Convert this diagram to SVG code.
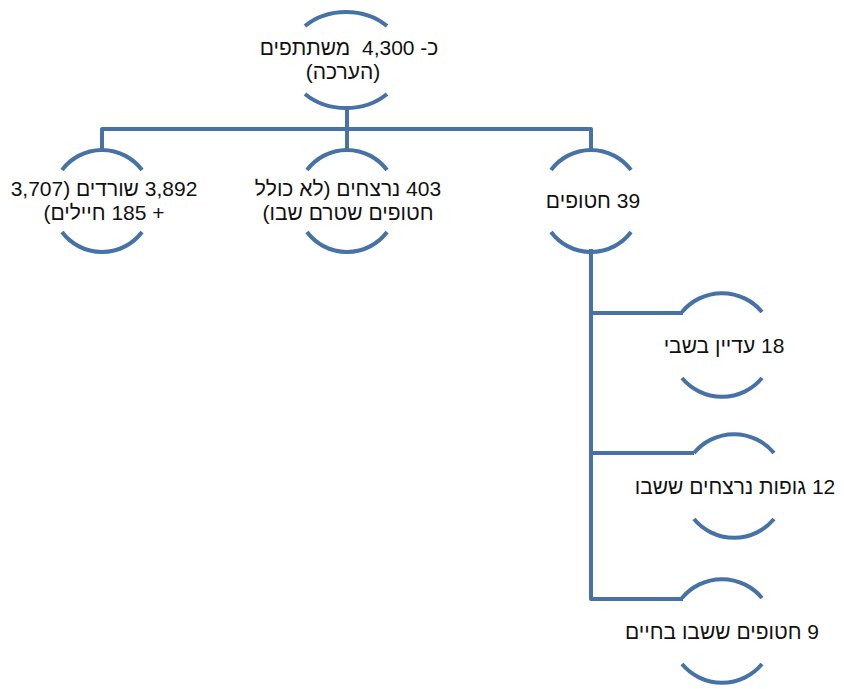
<svg xmlns="http://www.w3.org/2000/svg" width="844" height="689" viewBox="0 0 844 689">
<style>
.arc{fill:none;stroke:#4672a6;stroke-width:4;stroke-linecap:butt}
.con{fill:none;stroke:#4672a6;stroke-width:4;stroke-linejoin:round}
.t{font-family:"Liberation Sans",Arial,sans-serif;font-size:21px;fill:#111;text-anchor:middle;direction:rtl;unicode-bidi:embed;white-space:pre}
</style>
<rect width="844" height="689" fill="#fff"/>
<g id="connectors">
<path class="con" d="M102 151 V129 H591 V151"/>
<path class="con" d="M347 106 V151"/>
<path class="con" d="M591 249 V599 H683"/>
<path class="con" d="M591 313 H683"/>
<path class="con" d="M591 453 H694"/>
</g>
<g id="node-top">
<path class="arc" d="M305 26 A58 48 0 0 1 387 26"/>
<path class="arc" d="M305 94 A58 48 0 0 0 387 94"/>
<text class="t" x="349" y="55" xml:space="preserve">כ- 4,300  משתתפים</text>
<text class="t" x="343" y="79">(הערכה)</text>
</g>
<g id="node-survivors">
<path class="arc" d="M62 170 A50 50 0 0 1 142 170"/>
<path class="arc" d="M62 232 A50 50 0 0 0 142 232"/>
<text class="t" x="104" y="196">3,892 שורדים (3,707</text>
<text class="t" x="104" y="220">+ 185 חיילים)</text>
</g>
<g id="node-murdered">
<path class="arc" d="M307 170 A50 50 0 0 1 387 170"/>
<path class="arc" d="M307 232 A50 50 0 0 0 387 232"/>
<text class="t" x="348" y="196">403 נרצחים (לא כולל</text>
<text class="t" x="348" y="220">חטופים שטרם שבו)</text>
</g>
<g id="node-hostages">
<path class="arc" d="M551 170 A50 50 0 0 1 631 170"/>
<path class="arc" d="M551 232 A50 50 0 0 0 631 232"/>
<text class="t" x="593" y="208">39 חטופים</text>
</g>
<g id="node-captive">
<path class="arc" d="M682 312 A52 52 0 0 1 762 312"/>
<path class="arc" d="M682 378 A52 52 0 0 0 762 378"/>
<text class="t" x="724" y="353">18 עדיין בשבי</text>
</g>
<g id="node-bodies">
<path class="arc" d="M694 453 A52 52 0 0 1 774 453"/>
<path class="arc" d="M694 519 A52 52 0 0 0 774 519"/>
<text class="t" x="735" y="494">12 גופות נרצחים ששבו</text>
</g>
<g id="node-returned">
<path class="arc" d="M682 598 A52 52 0 0 1 762 598"/>
<path class="arc" d="M682 664 A52 52 0 0 0 762 664"/>
<text class="t" x="722" y="639">9 חטופים ששבו בחיים</text>
</g>
</svg>
